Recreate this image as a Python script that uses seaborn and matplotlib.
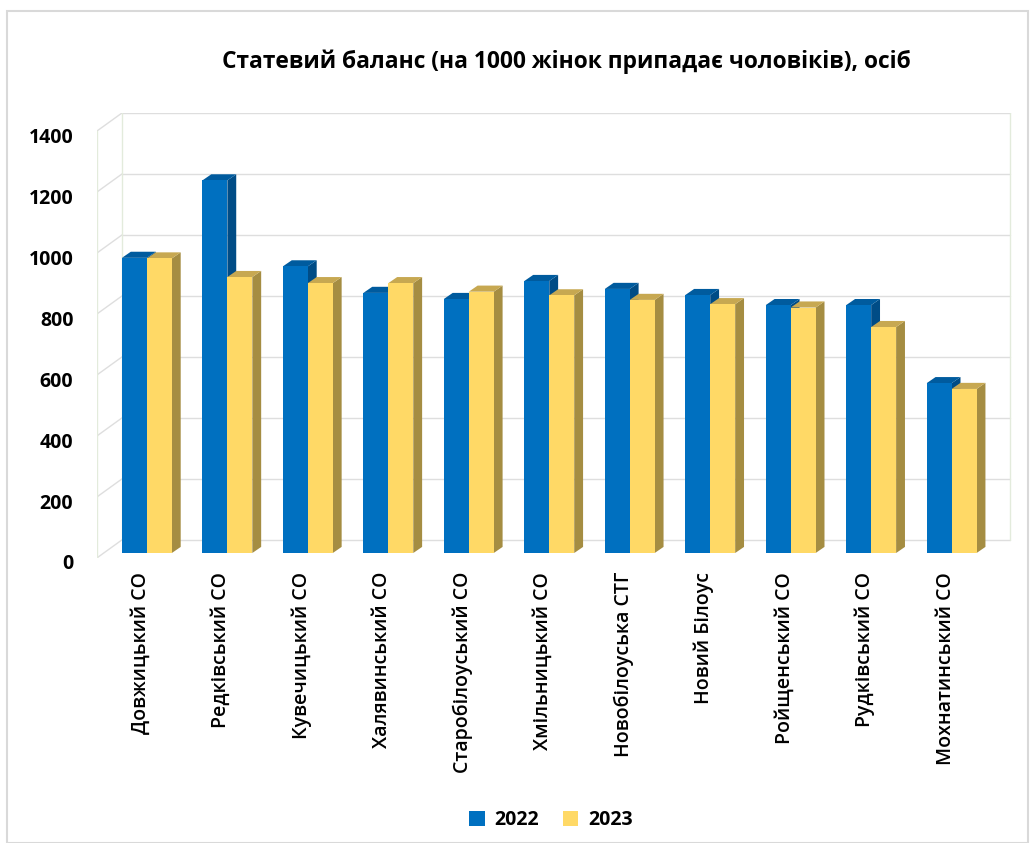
import numpy as np
import pandas as pd
import matplotlib
matplotlib.use('Agg')
from matplotlib import pyplot as plt
from matplotlib.patches import Polygon, Rectangle
import matplotlib.transforms as mtransforms
import seaborn as sns

sns.set_style('white')
plt.rcParams['font.family'] = ['Open Sans', 'DejaVu Sans']
plt.rcParams['text.color'] = 'black'
plt.rcParams['xtick.color'] = 'black'
plt.rcParams['ytick.color'] = 'black'

# дані
districts = ['Довжицький СО', 'Редківський СО', 'Кувечицький СО', 'Халявинський СО',
             'Старобілоуський СО', 'Хмільницький СО', 'Новобілоуська СТГ', 'Новий Білоус',
             'Ройщенський СО', 'Рудківський СО', 'Мохнатинський СО']
years = ['2022', '2023']
v2022 = [968, 1222, 940, 853, 833, 892, 866, 846, 813, 813, 557]
v2023 = [966, 905, 885, 885, 857, 845, 830, 816, 805, 741, 538]

front_col = ['#0070C0', '#FFD966']
side_col = ['#004C86', '#A58D42']
top_col = ['#005B9E', '#C7A851']

df = pd.DataFrame({
    'district': districts * 2,
    'year': [years[0]] * len(districts) + [years[1]] * len(districts),
    'value': v2022 + v2023,
})

fig = plt.figure(figsize=(10.30, 8.43), dpi=100)
W, H = 1030, 843
ax = fig.add_axes([97 / W, (H - 558) / H, 915 / W, 445 / H])

sns.barplot(data=df, x='district', y='value', hue='year', palette=front_col,
            width=0.62, saturation=1, edgecolor='none', ax=ax)

ax.set_xlim(-0.62, 10.75)
ax.set_ylim(-16.4, 1443)

# псевдо-3D: бічні та верхні грані
dx, dy = 0.11, 20
for i, cont in enumerate(ax.containers):
    for bar in cont:
        bar.set_zorder(3)
        x, w, h = bar.get_x(), bar.get_width(), bar.get_height()
        side = Polygon([(x + w, 0), (x + w, h), (x + w + dx, h + dy), (x + w + dx, dy)],
                       closed=True, facecolor=side_col[i], edgecolor='none', zorder=2)
        top = Polygon([(x, h), (x + w, h), (x + w + dx, h + dy), (x + dx, h + dy)],
                      closed=True, facecolor=top_col[i], edgecolor='none', zorder=2)
        ax.add_patch(side)
        ax.add_patch(top)

# стінки
ticks = list(range(0, 1401, 200))
back_off, front_off = 43, -16
xf, xb, xr = -0.62, -0.31, 10.72
wall = '#e3ebdc'
grid = '#dedede'
for v in ticks:
    ax.plot([xb, xr], [v + back_off, v + back_off], color=grid, lw=1, zorder=1)
    ax.plot([xf, xb], [v + front_off, v + back_off], color=grid, lw=1, zorder=1)
ax.plot([xf, xf], [front_off, 1400 + front_off], color=wall, lw=1, zorder=1)
ax.plot([xb, xb], [back_off, 1400 + back_off], color=wall, lw=1, zorder=1)
ax.plot([xr, xr], [back_off, 1400 + back_off], color=wall, lw=1, zorder=1)

for s in ax.spines.values():
    s.set_visible(False)

ax.set_xlabel('')
ax.set_ylabel('')
ax.set_yticks(ticks)
ax.set_yticklabels([str(t) for t in ticks], fontsize=14, fontweight='bold')
ax.tick_params(axis='y', length=0, pad=17)
ax.tick_params(axis='x', length=0, pad=10)
ax.set_xticks(range(len(districts)))
ax.set_xticklabels(districts, rotation=90, fontsize=14, fontweight='semibold',
                   va='top', ha='center')

off_y = mtransforms.ScaledTranslation(0, -9 / 100, fig.dpi_scale_trans)
for lab in ax.get_yticklabels():
    lab.set_transform(lab.get_transform() + off_y)
off_x = mtransforms.ScaledTranslation(-6 / 100, 0, fig.dpi_scale_trans)
for lab in ax.get_xticklabels():
    lab.set_transform(lab.get_transform() + off_x)

sns.move_legend(ax, 'center', bbox_to_anchor=(551 / W, 1 - 820 / H),
                bbox_transform=fig.transFigure, ncol=2, frameon=False, title=None,
                handlelength=0.8, handleheight=0.8, columnspacing=1.2,
                handletextpad=0.5, prop={'weight': 'bold', 'size': 14})

fig.text(566 / W, 1 - 62 / H, 'Статевий баланс (на 1000 жінок припадає чоловіків), осіб',
         ha='center', va='center', fontsize=16.4, fontweight='bold')

fig.patches.append(Rectangle((7 / W, 0), (1028 - 7) / W, (H - 11) / H,
                             transform=fig.transFigure, fill=False,
                             edgecolor='#d9d9d9', lw=1.5))

fig.savefig('out.png', dpi=100, facecolor='white')
